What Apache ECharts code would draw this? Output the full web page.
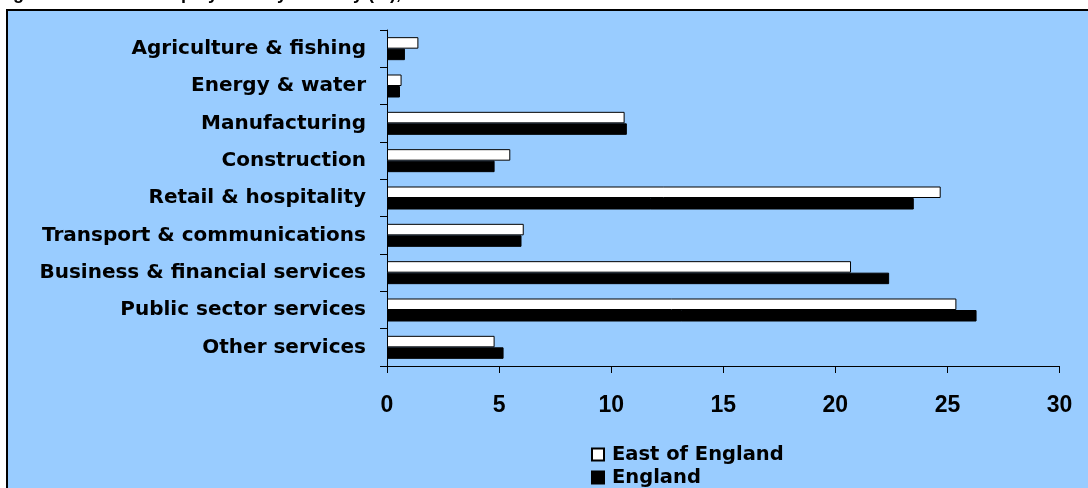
<!DOCTYPE html>
<html>
<head>
<meta charset="utf-8">
<title>Employment by industry</title>
<script src="https://cdn.jsdelivr.net/npm/echarts@6/dist/echarts.min.js"></script>
<style>
  html, body { margin: 0; padding: 0; background: #ffffff; }
  #chart { width: 1088px; height: 488px; }
</style>
</head>
<body>
<div id="chart"></div>
<script>
// Industry groups, listed top to bottom
const categories = [
  'Agriculture & fishing',
  'Energy & water',
  'Manufacturing',
  'Construction',
  'Retail & hospitality',
  'Transport & communications',
  'Business & financial services',
  'Public sector services',
  'Other services'
];

// Share of employment (%)
const eastOfEngland = [1.4, 0.65, 10.6, 5.5, 24.7, 6.1, 20.7, 25.4, 4.8];
const england       = [0.8, 0.58, 10.7, 4.8, 23.5, 6.0, 22.4, 26.3, 5.2];

const seriesNames = ['East of England', 'England'];

const FONT = 'Liberation Sans, Arial, sans-serif';
const WIDE_FONT = 'DejaVu Sans, Verdana, sans-serif';

const chart = echarts.init(document.getElementById('chart'), null, { renderer: 'canvas' });

chart.setOption({
  backgroundColor: '#ffffff',
  animation: false,
  graphic: {
    elements: [
      {
        type: 'rect',
        z: -10,
        shape: { x: 7, y: 10, width: 1100, height: 500 },
        style: { fill: '#99ccff', stroke: '#000000', lineWidth: 2 }
      },
      {
        type: 'text',
        z: -5,
        style: {
          text: 'Figure 7: Share of employment by industry (%), 2008',
          x: -3,
          y: 3,
          verticalAlign: 'bottom',
          font: 'bold 18px ' + FONT,
          fill: '#000000'
        }
      }
    ]
  },
  grid: {
    left: 387,
    right: 28.5,
    top: 30,
    bottom: 122,
    containLabel: false
  },
  legend: {
    orient: 'vertical',
    left: 591,
    top: 443,
    height: 100,
    itemWidth: 12,
    itemHeight: 12,
    itemGap: 0,
    icon: 'rect',
    padding: 0,
    textStyle: {
      fontFamily: WIDE_FONT,
      fontWeight: 'bold',
      fontSize: 19.5,
      lineHeight: 23,
      color: '#000000',
      padding: [0, 0, 0, 3]
    },
    data: seriesNames
  },
  xAxis: {
    type: 'value',
    min: 0,
    max: 30,
    interval: 5,
    splitLine: { show: false },
    axisLine: { show: true, lineStyle: { color: '#000000', width: 1 } },
    axisTick: { show: true, length: 7, lineStyle: { color: '#000000' } },
    axisLabel: {
      margin: 28,
      fontFamily: FONT,
      fontWeight: 'bold',
      fontSize: 23,
      color: '#000000'
    }
  },
  yAxis: {
    type: 'category',
    inverse: true,
    data: categories,
    axisLine: { show: true, lineStyle: { color: '#000000', width: 1 } },
    axisTick: { show: true, length: 7, lineStyle: { color: '#000000' } },
    axisLabel: {
      margin: 21,
      fontFamily: WIDE_FONT,
      fontWeight: 'bold',
      fontSize: 20,
      color: '#000000'
    }
  },
  series: [
    {
      name: seriesNames[0],
      type: 'bar',
      data: eastOfEngland,
      barWidth: 11.5,
      barGap: '0%',
      itemStyle: { color: '#ffffff', borderColor: '#000000', borderWidth: 1 }
    },
    {
      name: seriesNames[1],
      type: 'bar',
      data: england,
      barWidth: 11.5,
      barGap: '0%',
      itemStyle: { color: '#000000', borderColor: '#000000', borderWidth: 1 }
    }
  ]
});
</script>
</body>
</html>
